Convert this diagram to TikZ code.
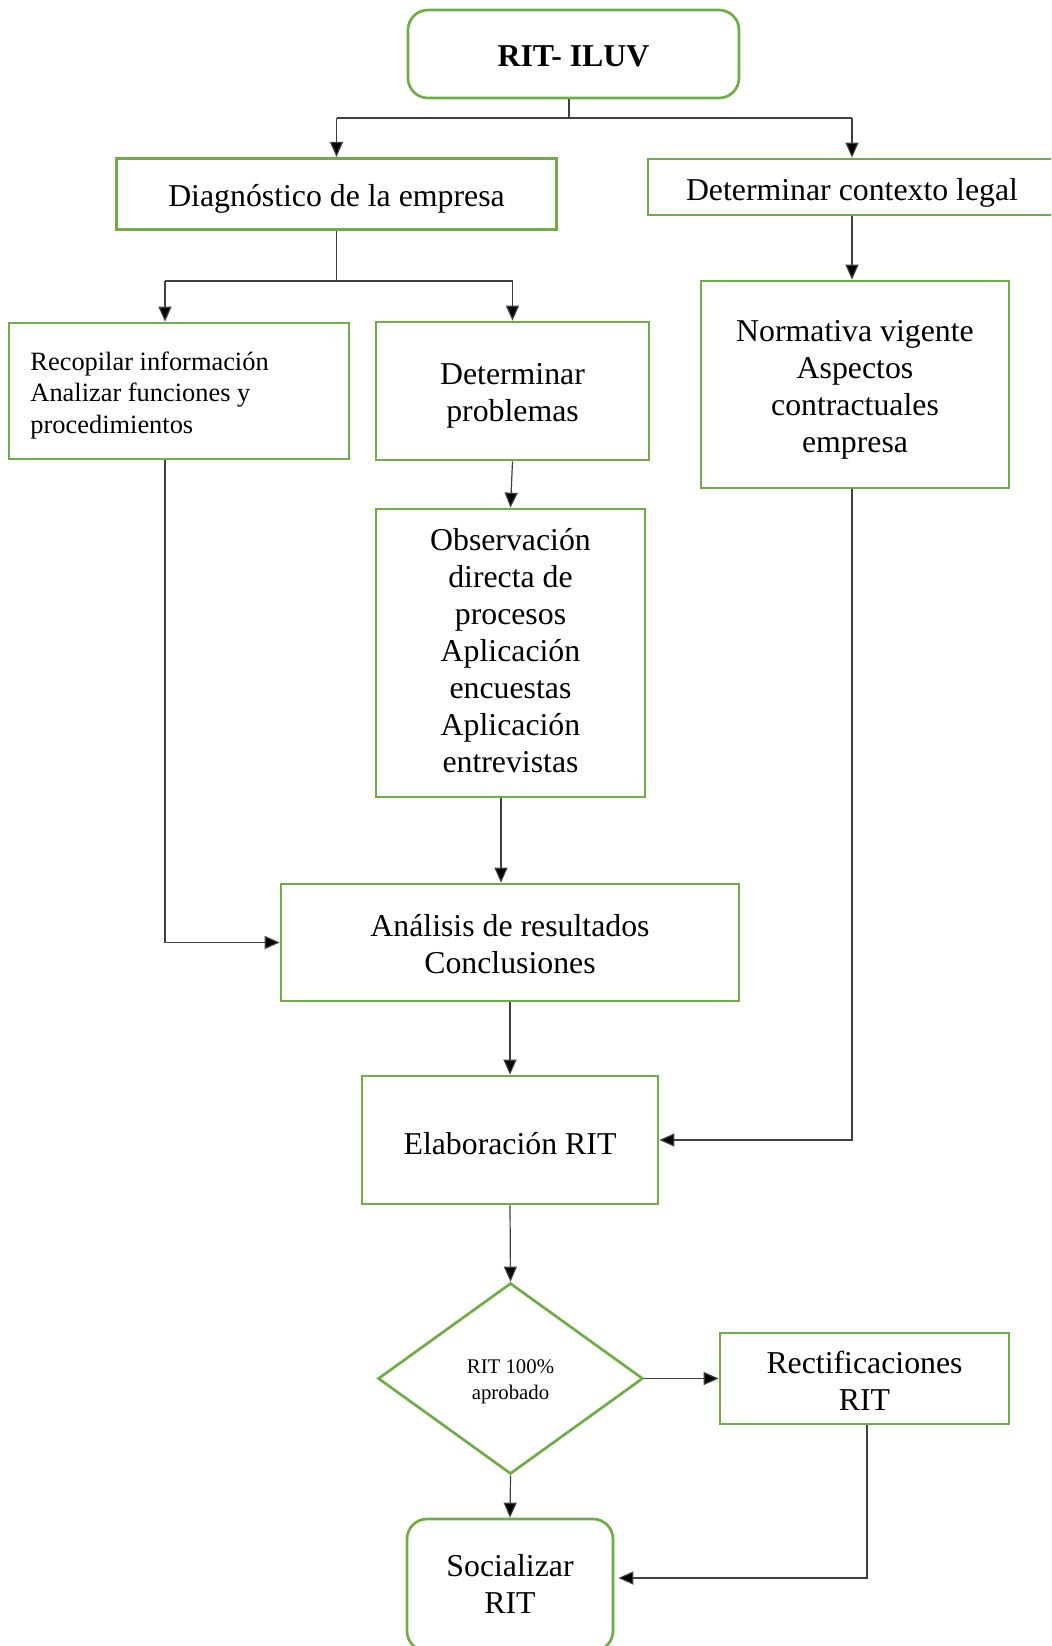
\documentclass[tikz,border=0pt]{standalone}
\usepackage{fontspec}
\setmainfont{Liberation Serif}
\usetikzlibrary{arrows.meta,shapes.geometric}
\definecolor{grn}{HTML}{70AD47}
\definecolor{ln}{HTML}{404040}
\begin{document}
\begin{tikzpicture}[x=0.5pt,y=-0.5pt,
  box/.style={draw=grn, line width=1.35pt, inner sep=0pt},
  rbox/.style={box, rounded corners=10pt},
  txt/.style={align=center, inner sep=0pt, font=\fontsize{15.9pt}{18.5pt}\selectfont},
  arr/.style={draw=ln, line width=0.6pt, -{Triangle[length=7.5pt,width=6.5pt,fill=black]}},
  ln/.style={draw=ln, line width=0.6pt}]
\path[use as bounding box] (0,0) rectangle (1051,1646);
\clip (0,0) rectangle (1051,1646);

% boxes
\node[rbox, minimum width=165.5pt, minimum height=44pt] (top) at (573.5,54) {};
\node[box, minimum width=220pt, minimum height=35.75pt] (diag) at (336.5,194) {};
\node[box, minimum width=204pt, minimum height=28pt] (dcl) at (852,187) {};
\node[box, minimum width=154pt, minimum height=103.5pt] (norm) at (855,384.5) {};
\node[box, minimum width=170pt, minimum height=68pt] (rec) at (179,391) {};
\node[box, minimum width=136.5pt, minimum height=69pt] (dp) at (512.5,391) {};
\node[box, minimum width=134.5pt, minimum height=144pt] (obs) at (510.5,653) {};
\node[box, minimum width=229pt, minimum height=58.5pt] (ana) at (510,942.5) {};
\node[box, minimum width=148pt, minimum height=64pt] (elab) at (510,1140) {};
\node[box, diamond, minimum width=132.5pt, minimum height=95.5pt] (dia) at (510.5,1378.5) {};
\node[box, minimum width=144.5pt, minimum height=45.5pt] (rect) at (864.5,1378.5) {};
\node[rbox, minimum width=103pt, minimum height=66pt] (soc) at (510,1585) {};

% texts
\node[txt, font=\fontsize{15.9pt}{18.5pt}\selectfont\bfseries] (topt) at ([yshift=-1pt]top.center) {RIT- ILUV};
\node[txt] (diagt) at ([yshift=-2.6pt]diag.center) {Diagnóstico de la empresa};
\node[txt] (dclt) at ([yshift=-3.1pt]dcl.center) {Determinar contexto legal};
\node[txt] (normt) at ([yshift=-2.6pt]norm.center) {Normativa vigente\\Aspectos\\contractuales\\empresa};
\node[txt, align=left, anchor=west, font=\fontsize{13.2pt}{15.75pt}\selectfont] (rect0) at ([xshift=11.2pt,yshift=-2.1pt]rec.west) {Recopilar información\\Analizar funciones y\\procedimientos};
\node[txt] (dpt) at ([yshift=-2.6pt]dp.center) {Determinar\\problemas};
\node[txt] (obst) at ([yshift=1pt]obs.center) {Observación\\directa de\\procesos\\Aplicación\\encuestas\\Aplicación\\entrevistas};
\node[txt] (anat) at ([yshift=-0.8pt]ana.center) {Análisis de resultados\\Conclusiones};
\node[txt] (elabt) at ([yshift=-1.6pt]elab.center) {Elaboración RIT};
\node[txt, font=\fontsize{10.4pt}{12.6pt}\selectfont] (diat) at ([yshift=-1.6pt]dia.center) {RIT 100\%\\aprobado};
\node[txt] (rectt) at ([yshift=-1.3pt]rect.center) {Rectificaciones\\RIT};
\node[txt] (soct) at ([yshift=0.5pt]soc.center) {Socializar\\RIT};

\coordinate (xt) at (569,0);
\coordinate (hy) at (0,118);
\coordinate (hy2) at (0,281);
\coordinate (xr) at (165,0);
\coordinate (xo) at (501,0);
\coordinate (xn) at (852,0);
\coordinate (xs) at (867,0);
\coordinate (ys) at (0,1578);

% top split
\draw[ln] (top.south -| xt) -- (hy -| xt);
\draw[ln] (hy -| diag.north) -- (hy -| dcl.north);
\draw[arr] (hy -| diag.north) -- (diag.north);
\draw[arr] (hy -| dcl.north) -- (dcl.north);
% diagnostico split
\draw[ln] (diag.south) -- (hy2 -| diag.south);
\draw[ln] (hy2 -| xr) -- (hy2 -| dp.north);
\draw[arr] (hy2 -| xr) -- (rec.north -| xr);
\draw[arr] (hy2 -| dp.north) -- (dp.north);
% flows
\draw[arr] (dp.south) -- (obs.north);
\draw[arr] (obs.south -| xo) -- (ana.north -| xo);
\draw[arr] (rec.south -| xr) |- (ana.west);
\draw[arr] (dcl.south -| xn) -- (norm.north -| xn);
\draw[arr] (norm.south -| xn) |- (elab.east);
\draw[arr] (ana.south) -- (elab.north);
\draw[arr] (elab.south) -- (dia.north);
\draw[arr] (dia.east) -- (rect.west);
\draw[arr] (dia.south) -- (soc.north);
\draw[arr] (rect.south -| xs) |- ([xshift=2pt]soc.east |- ys);
\end{tikzpicture}
\end{document}
